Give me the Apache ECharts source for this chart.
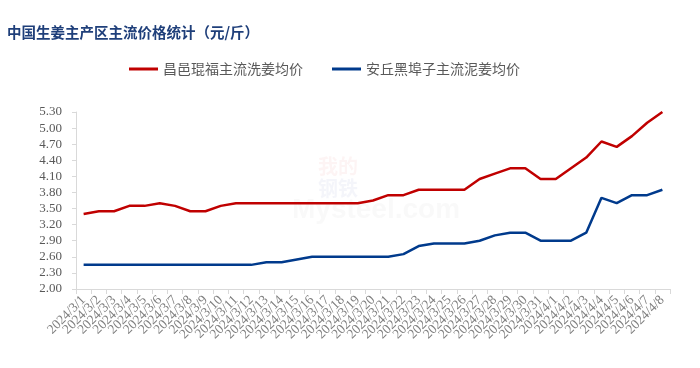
<!DOCTYPE html>
<html>
<head>
<meta charset="utf-8">
<script src="https://cdn.jsdelivr.net/npm/echarts@6/dist/echarts.min.js"></script>
<style>html,body{margin:0;padding:0;background:#fff;}#c{width:700px;height:368px;}</style>
</head>
<body>
<div id="c"></div>
<script>
const titleText = '中国生姜主产区主流价格统计（元/斤）';
const dates = ['2024/3/1','2024/3/2','2024/3/3','2024/3/4','2024/3/5','2024/3/6','2024/3/7','2024/3/8','2024/3/9','2024/3/10',
  '2024/3/11','2024/3/12','2024/3/13','2024/3/14','2024/3/15','2024/3/16','2024/3/17','2024/3/18','2024/3/19','2024/3/20',
  '2024/3/21','2024/3/22','2024/3/23','2024/3/24','2024/3/25','2024/3/26','2024/3/27','2024/3/28','2024/3/29','2024/3/30',
  '2024/3/31','2024/4/1','2024/4/2','2024/4/3','2024/4/4','2024/4/5','2024/4/6','2024/4/7','2024/4/8'];
const seriesNames = ['昌邑琨福主流洗姜均价', '安丘黑埠子主流泥姜均价'];
const changyi = [3.40,3.45,3.45,3.55,3.55,3.60,3.55,3.45,3.45,3.55,
  3.60,3.60,3.60,3.60,3.60,3.60,3.60,3.60,3.60,3.65,
  3.75,3.75,3.85,3.85,3.85,3.85,4.05,4.15,4.25,4.25,
  4.05,4.05,4.25,4.45,4.75,4.65,4.85,5.10,5.30];
const anqiu = [2.45,2.45,2.45,2.45,2.45,2.45,2.45,2.45,2.45,2.45,
  2.45,2.45,2.50,2.50,2.55,2.60,2.60,2.60,2.60,2.60,
  2.60,2.65,2.80,2.85,2.85,2.85,2.90,3.00,3.05,3.05,
  2.90,2.90,2.90,3.05,3.70,3.60,3.75,3.75,3.85];
const yMin = 2.0, yMax = 5.3, yStep = 0.3;

const chart = echarts.init(document.getElementById('c'), null, {renderer: 'canvas'});
chart.setOption({
  backgroundColor: '#ffffff',
  animation: false,
  title: {
    text: titleText,
    left: 2, top: 20,
    textStyle: {fontFamily: 'Noto Sans CJK SC', fontSize: 14.5, fontWeight: 'bold', color: '#1f3f7a'}
  },
  legend: {
    left: 124, top: 57,
    itemWidth: 29, itemHeight: 3, itemGap: 29,
    icon: 'rect',
    textStyle: {fontFamily: 'Noto Sans CJK SC', fontSize: 14, color: '#595959'},
    data: seriesNames
  },
  graphic: [
    {type: 'text', left: 292, top: 196, style: {text: 'Mysteel.com', font: 'bold 28px Arial', fill: 'rgba(200,200,200,0.10)'}},
    {type: 'text', left: 318, top: 156, style: {text: '我的', font: 'bold 20px "Noto Sans CJK SC"', fill: 'rgba(220,60,60,0.06)'}},
    {type: 'text', left: 318, top: 178, style: {text: '钢铁', font: 'bold 20px "Noto Sans CJK SC"', fill: 'rgba(60,90,170,0.06)'}}
  ],
  grid: {left: 76, right: 30, top: 112, bottom: 79, containLabel: false},
  xAxis: {
    type: 'category',
    data: dates,
    boundaryGap: true,
    axisLine: {lineStyle: {color: '#d9d9d9', width: 1}},
    axisTick: {show: true, length: 5, lineStyle: {color: '#d9d9d9'}},
    axisLabel: {interval: 0, rotate: 45, margin: 9, fontFamily: 'Liberation Serif', fontSize: 13.5, color: '#7f7f7f'}
  },
  yAxis: {
    type: 'value',
    min: yMin, max: yMax, interval: yStep,
    axisLine: {show: true, lineStyle: {color: '#d9d9d9'}},
    axisTick: {show: true, length: 4, lineStyle: {color: '#d9d9d9'}},
    splitLine: {show: false},
    axisLabel: {margin: 14, fontFamily: 'Liberation Serif', fontSize: 13, color: '#595959',
      formatter: v => v.toFixed(2)}
  },
  series: [
    {name: seriesNames[0], type: 'line', data: changyi, symbol: 'none',
      lineStyle: {color: '#c00000', width: 2.5}, itemStyle: {color: '#c00000'}},
    {name: seriesNames[1], type: 'line', data: anqiu, symbol: 'none',
      lineStyle: {color: '#003a8c', width: 2.5}, itemStyle: {color: '#003a8c'}}
  ]
});
</script>
</body>
</html>
